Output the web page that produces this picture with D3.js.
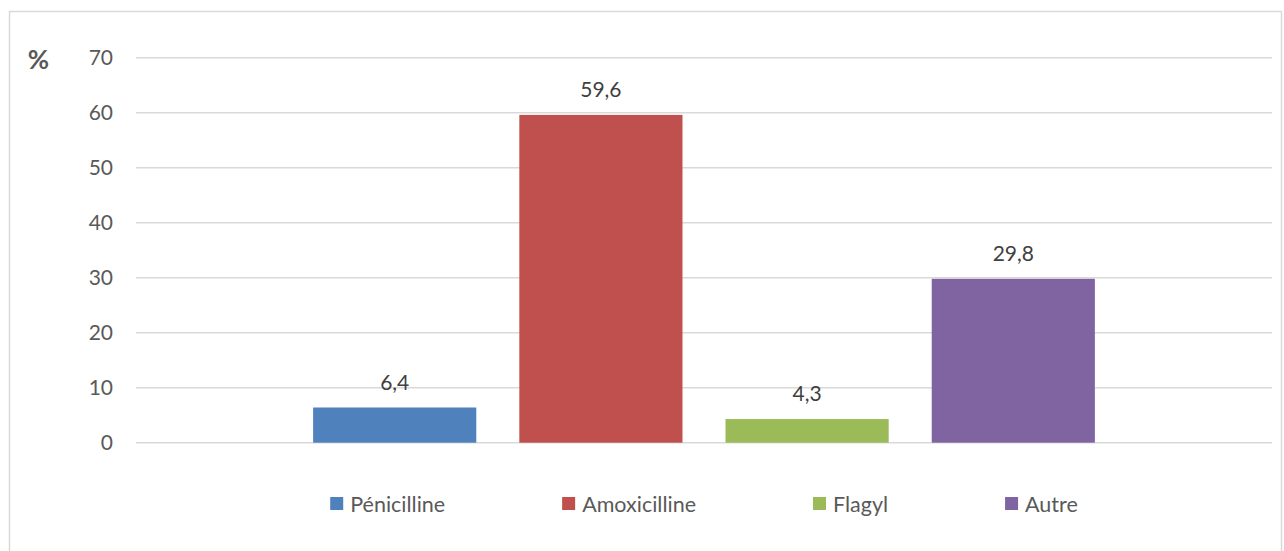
<!DOCTYPE html>
<html>
<head>
<meta charset="utf-8">
<script src="https://cdn.jsdelivr.net/npm/d3@7"></script>
<style>
  body { margin: 0; background: #fff; }
  svg { display: block; font-family: Lato, "Open Sans", sans-serif; }
</style>
</head>
<body>
<svg id="SVG_CONTAINER" width="1284" height="551"></svg>
<script>
let d3 = window.d3;

// data
const series = ["Pénicilline", "Amoxicilline", "Flagyl", "Autre"];
const values = [6.4, 59.6, 4.3, 29.8];
const labels = ["6,4", "59,6", "4,3", "29,8"];
const colors = ["#4F81BD", "#C0504D", "#9BBB59", "#8064A2"];
const yTicks = [0, 10, 20, 30, 40, 50, 60, 70];

const width = 1284, height = 551;
const MARGIN = { LEFT: 136, RIGHT: 12, TOP: 57.7, BOTTOM: 108.3 };

let svg = d3.select("#SVG_CONTAINER");

// chart frame
svg.append("rect")
  .attr("x", 9.5).attr("y", 11.5)
  .attr("width", 1272).attr("height", 560)
  .attr("fill", "none")
  .attr("stroke", "#d9d9d9")
  .attr("stroke-width", 1.5);

let xScale = d3.scaleBand()
  .domain(series)
  .range([MARGIN.LEFT, width - MARGIN.RIGHT])
  .paddingInner(0.2087)
  .paddingOuter(0.859);

let yScale = d3.scaleLinear()
  .domain([0, 70])
  .range([height - MARGIN.BOTTOM, MARGIN.TOP]);

// gridlines
svg.append("g")
  .selectAll("line")
  .data(yTicks)
  .enter()
  .append("line")
    .attr("x1", MARGIN.LEFT)
    .attr("x2", width - MARGIN.RIGHT)
    .attr("y1", d => yScale(d))
    .attr("y2", d => yScale(d))
    .attr("stroke", "#d9d9d9")
    .attr("stroke-width", 1.5);

// y axis labels
let yAxis = d3.axisLeft(yScale)
  .tickValues(yTicks)
  .tickSize(0)
  .tickPadding(0);
let yg = svg.append("g")
  .attr("transform", "translate(" + 113 + ",0)")
  .call(yAxis);
yg.select(".domain").remove();
yg.selectAll("text")
  .attr("fill", "#595959")
  .style("font-size", "21px")
  .style("font-family", "Lato, 'Open Sans', sans-serif");

svg.append("text")
  .attr("x", 38.5).attr("y", 69)
  .attr("text-anchor", "middle")
  .attr("fill", "#595959")
  .style("font-size", "26px")
  .style("font-weight", "bold")
  .text("%");

// bars
let bars = svg.append("g").attr("id", "chart");
bars.selectAll("rect")
  .data(series)
  .enter()
  .append("rect")
    .attr("x", d => xScale(d))
    .attr("width", xScale.bandwidth())
    .attr("y", (d, i) => yScale(values[i]))
    .attr("height", (d, i) => yScale(0) - yScale(values[i]))
    .attr("fill", (d, i) => colors[i]);

// value labels
bars.selectAll("text")
  .data(series)
  .enter()
  .append("text")
    .attr("x", d => xScale(d) + xScale.bandwidth() / 2)
    .attr("y", (d, i) => yScale(values[i]) - 18)
    .attr("text-anchor", "middle")
    .attr("fill", "#404040")
    .style("font-size", "21px")
    .text((d, i) => labels[i]);

// legend, centred under the plot
let legend = svg.append("g");
let items = legend.selectAll("g")
  .data(series)
  .enter()
  .append("g");
items.append("rect")
  .attr("width", 13).attr("height", 13)
  .attr("y", -7)
  .attr("fill", (d, i) => colors[i]);
items.append("text")
  .attr("x", 20)
  .attr("dy", "0.35em")
  .attr("fill", "#595959")
  .style("font-size", "21.5px")
  .text(d => d);

let offset = 0;
let widths = [];
items.each(function () {
  widths.push(d3.select(this).select("text").node().getComputedTextLength());
});
items.attr("transform", function (d, i) {
  let x = offset;
  offset += 20 + widths[i] + 117;
  return "translate(" + x + ",0)";
});
let total = offset - 117;
let centre = (MARGIN.LEFT + width - MARGIN.RIGHT) / 2;
legend.attr("transform", "translate(" + (centre - total / 2) + "," + 504 + ")");
</script>
</body>
</html>
